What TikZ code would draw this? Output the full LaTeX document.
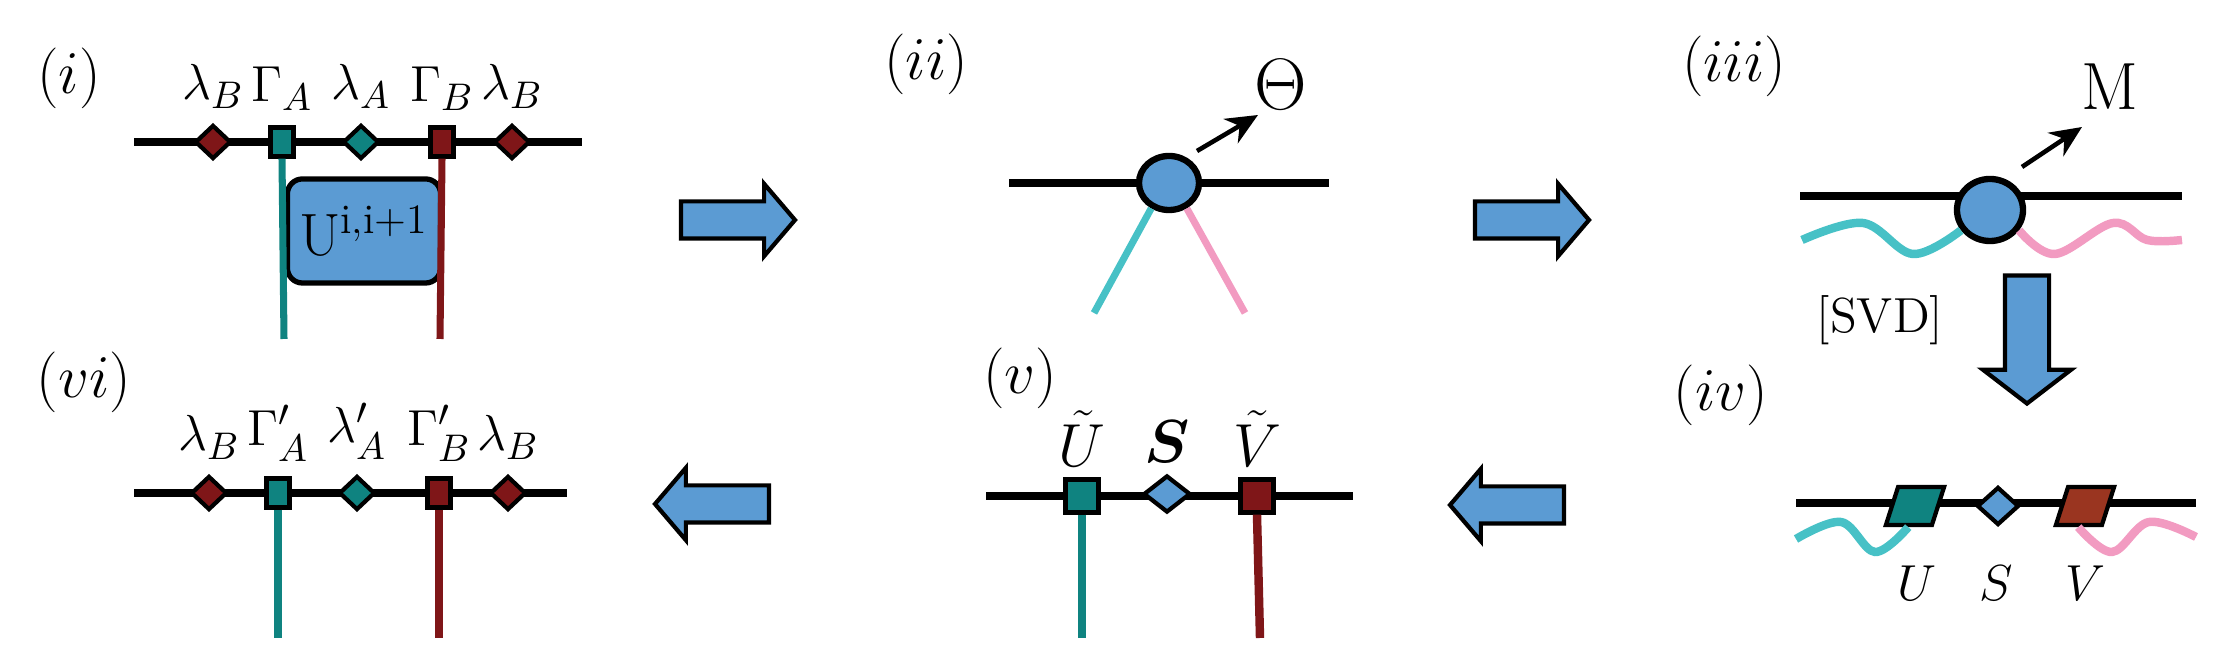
\documentclass[tikz,border=0pt]{standalone}
\usepackage{amsmath, amssymb}
\usetikzlibrary{positioning, shapes.geometric, shapes.arrows, arrows.meta}

\definecolor{tealA}{HTML}{0F8380}
\definecolor{redB}{HTML}{7F1618}
\definecolor{blueM}{HTML}{5B9BD3}
\definecolor{cyanW}{HTML}{47C1C6}
\definecolor{pinkW}{HTML}{F29BC1}
\definecolor{brownV}{HTML}{9A3520}

\tikzset{
  bond/.style={line width=2.2pt, black},
  legA/.style={line width=2pt, tealA},
  legB/.style={line width=2pt, redB},
  waveA/.style={line width=2.4pt, cyanW},
  waveB/.style={line width=2.4pt, pinkW},
  lam/.style={diamond, draw, line width=1.2pt, inner sep=0pt, minimum width=0.36cm, minimum height=0.34cm},
  gam/.style={rectangle, draw, line width=1.2pt, inner sep=0pt, minimum width=0.23cm, minimum height=0.29cm},
  tens/.style={ellipse, draw, line width=1.8pt, fill=blueM, inner sep=0pt},
  par/.style={rectangle, xslant=0.32, draw, line width=1.2pt,
    inner sep=0pt, minimum width=0.46cm, minimum height=0.38cm},
  big/.style={single arrow, draw, line width=1.2pt, fill=blueM, inner xsep=0pt, inner ysep=0.165cm,
    single arrow head extend=0.175cm, single arrow tip angle=99, minimum height=1.14cm},
  lbl/.style={font=\fontsize{15}{18}\selectfont, inner sep=0pt},
  tag/.style={font=\fontsize{18}{20}\selectfont},
  ptr/.style={line width=1.3pt, -{Stealth[length=9pt, width=8pt]}}
}

\begin{document}
\begin{tikzpicture}[x=0.01cm, y=-0.01cm]
    \useasboundingbox (0,0) rectangle (2214,665);

    % (i): two-site MPS with gate
    \node[tag] (s1) at (69,78) {$(i)$};
    \coordinate (i-l) at (134,142);
    \coordinate (i-r) at (582,142);
    \draw[bond] (i-l) -- (i-r);
    \node[rectangle, rounded corners=0.15cm, draw, line width=1.5pt, fill=blueM,
          minimum width=1.52cm, minimum height=1.04cm, font=\fontsize{17}{20}\selectfont]
          (gate) at (364,231) {U$^{\text{i,i+1}}$};
    \node[lam, fill=redB]  (i-lb1) at (213,142) {};
    \node[gam, fill=tealA] (i-ga)  at (282,142) {};
    \node[lam, fill=tealA] (i-la)  at (361,142) {};
    \node[gam, fill=redB]  (i-gb)  at (442,142) {};
    \node[lam, fill=redB]  (i-lb2) at (512,142) {};
    \coordinate (i-ea) at (284,339);
    \coordinate (i-eb) at (440,339);
    \draw[legA] (i-ga.south) -- (i-ea);
    \draw[legB] (i-gb.south) -- (i-eb);
    \node[lbl, above=4pt of i-lb1] {$\lambda_B$};
    \node[lbl, above=4pt of i-ga]  {$\Gamma_A$};
    \node[lbl, above=4pt of i-la]  {$\lambda_A$};
    \node[lbl, above=4pt of i-gb]  {$\Gamma_B$};
    \node[lbl, above=4pt of i-lb2] {$\lambda_B$};
    \node[big] (a12) at (730,220) {};

    % (ii): contracted tensor
    \node[tag] (s2) at (926,64) {$(ii)$};
    \coordinate (ii-l) at (1009,183);
    \coordinate (ii-r) at (1329,183);
    \draw[bond] (ii-l) -- (ii-r);
    \node[tens, minimum width=0.60cm, minimum height=0.54cm] (th) at (1169,183) {};
    \coordinate (ii-ea) at (1094,313);
    \coordinate (ii-eb) at (1245,313);
    \draw[waveA, line width=2pt] (th.235) -- (ii-ea);
    \draw[waveB, line width=2pt] (th.305) -- (ii-eb);
    \node[font=\fontsize{20}{22}\selectfont] (theta) at (1281,85) {$\Theta$};
    \coordinate (th-t) at (1197,151);
    \coordinate (th-h) at (1258,115);
    \draw[ptr] (th-t) -- (th-h);
    \node[big] (a23) at (1524,220) {};

    % (iii): reshaped matrix
    \node[tag] (s3) at (1734,66) {$(iii)$};
    \coordinate (iii-l) at (1800,196);
    \coordinate (iii-r) at (2182,196);
    \draw[bond] (iii-l) -- (iii-r);
    \node[tens, minimum width=0.66cm, minimum height=0.62cm] (mat) at (1990,210) {};
    \draw[waveA] plot[smooth, tension=0.6] coordinates {(1802,240) (1863,223) (1913,254) (mat.215)};
    \draw[waveB] plot[smooth, tension=0.6] coordinates {(mat.325) (2055,254) (2113,223) (2147,240) (2182,240)};
    \node[font=\fontsize{19}{22}\selectfont] (m) at (2110,87) {M};
    \coordinate (m-t) at (2022,167);
    \coordinate (m-h) at (2082,127);
    \draw[ptr] (m-t) -- (m-h);
    \node[big, rotate=-90, inner ysep=0.2cm, single arrow head extend=0.22cm, single arrow tip angle=105,
          minimum height=1.28cm] (a34) at (2027,331) {};
    \node[font=\fontsize{14}{16}\selectfont] (svd) at (1880,320) {[SVD]};

    % (iv): SVD factors
    \node[tag] (s4) at (1721,395) {$(iv)$};
    \coordinate (iv-l) at (1796,503);
    \coordinate (iv-r) at (2196,503);
    \draw[bond] (iv-l) -- (iv-r);
    \node[par, fill=tealA] (u)  at (1915,506) {};
    \node[lam, fill=blueM, minimum width=0.42cm, minimum height=0.38cm] (sv) at (1998,506) {};
    \node[par, fill=brownV] (v) at (2085,506) {};
    \draw[waveA] plot[smooth, tension=0.6] coordinates {(1796,539) (1841,522) (1875,552) (u.south)};
    \draw[waveB] plot[smooth, tension=0.6] coordinates {(v.south) (2112,552) (2149,522) (2196,537)};
    \node[lbl, font=\fontsize{14}{16}\selectfont] at (1917,583) {$U$};
    \node[lbl, font=\fontsize{14}{16}\selectfont] at (1996,583) {$S$};
    \node[lbl, font=\fontsize{14}{16}\selectfont] at (2085,583) {$V$};
    \node[big, shape border rotate=180] (a45) at (1515,505) {};

    % (v): absorbed lambdas
    \node[tag] (s5) at (1020,378) {$(v)$};
    \coordinate (v-l) at (986,496);
    \coordinate (v-r) at (1353,496);
    \draw[bond] (v-l) -- (v-r);
    \node[gam, fill=tealA, minimum width=0.33cm, minimum height=0.33cm] (ut) at (1082,496) {};
    \node[lam, fill=blueM, minimum width=0.47cm, minimum height=0.37cm] (s) at (1167,494) {};
    \node[gam, fill=redB, minimum width=0.33cm, minimum height=0.33cm] (vt) at (1257,496) {};
    \coordinate (v-ea) at (1082,638);
    \coordinate (v-eb) at (1260,638);
    \draw[legA, line width=2.4pt] (ut.south) -- (v-ea);
    \draw[legB, line width=2.4pt] (vt.south) -- (v-eb);
    \node[lbl, font=\fontsize{16}{18}\selectfont, above=3pt of ut] {$\tilde{U}$};
    \node[lbl, font=\fontsize{16}{18}\selectfont, above=3pt of s]  {$\boldsymbol{S}$};
    \node[lbl, font=\fontsize{16}{18}\selectfont, above=3pt of vt] {$\tilde{V}$};
    \node[big, shape border rotate=180] (a56) at (720,504) {};

    % (vi): updated MPS
    \node[tag] (s6) at (84,382) {$(vi)$};
    \coordinate (vi-l) at (134,493);
    \coordinate (vi-r) at (567,493);
    \draw[bond] (vi-l) -- (vi-r);
    \node[lam, fill=redB]  (vi-lb1) at (209,493) {};
    \node[gam, fill=tealA] (vi-ga)  at (278,493) {};
    \node[lam, fill=tealA] (vi-la)  at (357,493) {};
    \node[gam, fill=redB]  (vi-gb)  at (439,493) {};
    \node[lam, fill=redB]  (vi-lb2) at (508,493) {};
    \coordinate (vi-ea) at (278,638);
    \coordinate (vi-eb) at (439,638);
    \draw[legA] (vi-ga.south) -- (vi-ea);
    \draw[legB] (vi-gb.south) -- (vi-eb);
    \node[lbl, above=4pt of vi-lb1] {$\lambda_B$};
    \node[lbl, above=4pt of vi-ga]  {$\Gamma'_A$};
    \node[lbl, above=4pt of vi-la]  {$\lambda'_A$};
    \node[lbl, above=4pt of vi-gb]  {$\Gamma'_B$};
    \node[lbl, above=4pt of vi-lb2] {$\lambda_B$};
\end{tikzpicture}
\end{document}
